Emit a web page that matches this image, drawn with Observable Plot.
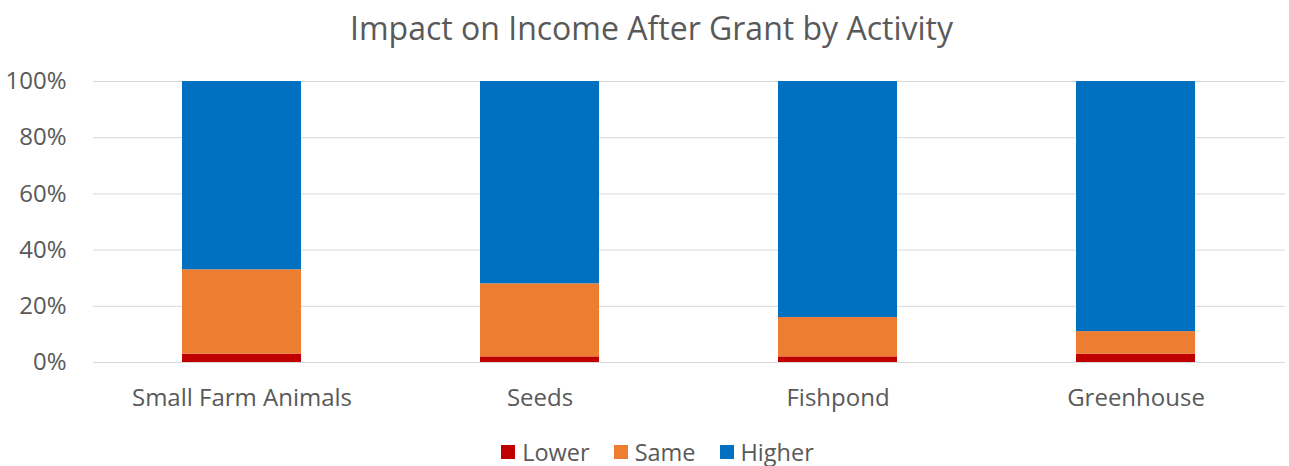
<!DOCTYPE html>
<html>
<head>
<meta charset="utf-8">
<script src="https://cdn.jsdelivr.net/npm/d3@7"></script>
<script src="https://cdn.jsdelivr.net/npm/@observablehq/plot@0.6"></script>
<style>
  html, body { margin: 0; padding: 0; background: #fff; }
  body { width: 1289px; height: 466px; overflow: hidden; font-family: "Open Sans", sans-serif; color: #595959; }
  #title { height: 60px; line-height: 56px; text-align: center; font-size: 32px; padding-left: 14px; }
  #legend { display: flex; justify-content: center; align-items: center; gap: 24px; font-size: 23.5px; margin-top: 6px; padding-left: 26px; }
  #legend .item { display: flex; align-items: center; gap: 7px; }
  #legend .sw { width: 14px; height: 14px; display: inline-block; }
</style>
</head>
<body>
<div id="title">Impact on Income After Grant by Activity</div>
<div id="chart"></div>
<div id="legend"></div>
<script>
const categories = ["Small Farm Animals", "Seeds", "Fishpond", "Greenhouse"];
const seriesNames = ["Lower", "Same", "Higher"];
const seriesColors = ["#C00000", "#ED7D31", "#0070C0"];
const lowerValues = [3, 2, 2, 3];
const sameValues = [30, 26, 14, 8];
const higherValues = [67, 72, 84, 89];
const yTicks = [0, 20, 40, 60, 80, 100];

const seriesValues = [lowerValues, sameValues, higherValues];
const data = [];
seriesNames.forEach((s, si) => {
  categories.forEach((c, ci) => {
    data.push({ category: c, series: s, value: seriesValues[si][ci] });
  });
});

const plot = Plot.plot({
  width: 1289,
  height: 370,
  marginLeft: 93,
  marginRight: 4,
  marginTop: 21,
  marginBottom: 68,
  style: { fontFamily: "Open Sans, sans-serif", fontSize: "24px", color: "#595959", background: "#fff" },
  x: { domain: categories, paddingInner: 0.6, paddingOuter: 0.3, label: null },
  y: { domain: [0, 100], label: null },
  color: { domain: seriesNames, range: seriesColors },
  marks: [
    Plot.ruleY(yTicks, { stroke: "#d9d9d9", strokeWidth: 1 }),
    Plot.barY(data, Plot.stackY({ x: "category", y: "value", fill: "series", order: seriesNames })),
    Plot.axisX({ tickSize: 0, tickPadding: 26, fontSize: 24, fill: "#595959" }),
    Plot.axisY({ ticks: yTicks, tickFormat: d => d + "%", tickSize: 0, tickPadding: 27, fontSize: 24, fill: "#595959" })
  ]
});
document.getElementById("chart").appendChild(plot);

const legend = document.getElementById("legend");
seriesNames.forEach((s, i) => {
  const item = document.createElement("div");
  item.className = "item";
  const sw = document.createElement("span");
  sw.className = "sw";
  sw.style.background = seriesColors[i];
  const label = document.createElement("span");
  label.textContent = s;
  item.appendChild(sw);
  item.appendChild(label);
  legend.appendChild(item);
});
</script>
</body>
</html>
